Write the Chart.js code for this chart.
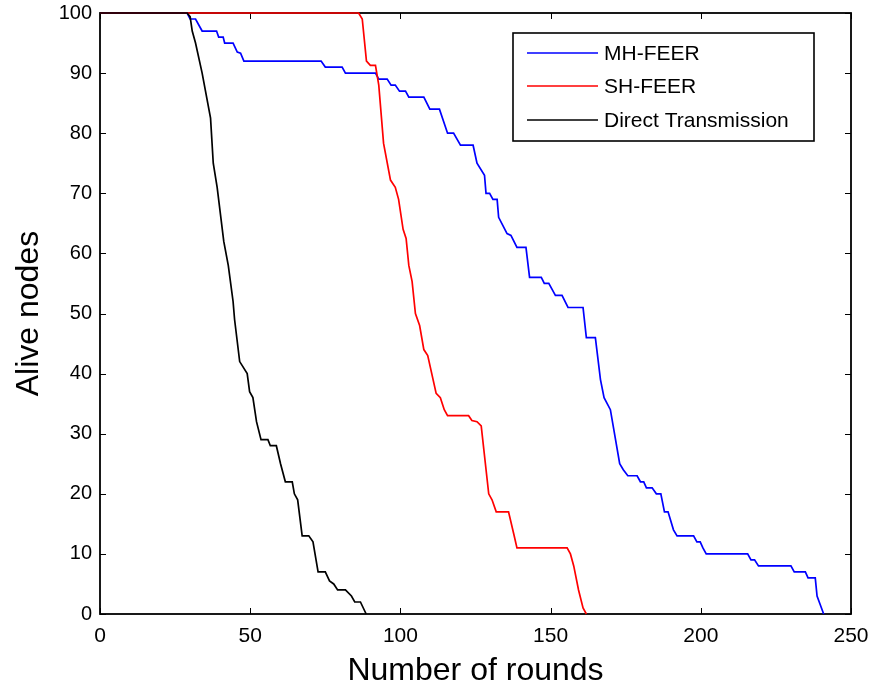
<!DOCTYPE html>
<html>
<head>
<meta charset="utf-8">
<script src="https://cdn.jsdelivr.net/npm/chart.js@4/dist/chart.umd.min.js"></script>
<style>
  html, body { margin: 0; padding: 0; background: #fff; }
  #wrap { width: 872px; height: 690px; }
</style>
</head>
<body>
<div id="wrap"><canvas id="chart" width="872" height="690"></canvas></div>
<script>
  'use strict';

  // values
  const mhRounds = [0, 29, 30, 31.8, 34, 38.8, 39.5, 41, 41.5, 44.3, 45.7, 46.8, 47.9, 73.6, 75, 80.6, 81.7, 91.7, 92.8, 95.6, 96.9, 98.3, 99.7, 101.7, 102.8, 107.8, 109.8, 113, 115.7, 117.7, 120, 124.2, 125.5, 128, 128.5, 129.7, 130.8, 132.2, 132.7, 135.5, 136.8, 138.8, 141.8, 143, 146.9, 147.9, 149.4, 150.5, 151.6, 153.8, 155.8, 160.8, 161.9, 164.9, 166.6, 167.8, 169.9, 173, 174.2, 175.7, 178.8, 179.9, 181, 181.9, 183.8, 185.2, 186.7, 187.9, 189.1, 190.9, 192.1, 197.6, 198.7, 199.8, 200.7, 201.8, 215.6, 216.7, 217.9, 219.2, 230, 231.1, 234.8, 235.7, 238.1, 238.7, 239.8, 240.9];
  const mhAlive = [100, 100, 99, 99, 97, 97, 96, 96, 95, 95, 93.5, 93.3, 92, 92, 91, 91, 90, 90, 89, 89, 88, 88, 87, 87, 86, 86, 84, 84, 80, 80, 78, 78, 75, 73, 70, 70, 69, 69, 66, 63.3, 63, 61, 61, 56, 56, 55, 55, 54, 53, 53, 51, 51, 46, 46, 39, 36, 34, 25, 24, 23, 23, 22, 22, 21, 21, 20, 20, 17, 17, 14, 13, 13, 12, 12, 11, 10, 10, 9, 9, 8, 8, 7, 7, 6, 6, 3, 1.5, 0];

  const shRounds = [0, 86.1, 87.3, 88.7, 90, 91.7, 92.8, 94.4, 96.7, 98.3, 99.4, 100.9, 101.9, 102.8, 103.9, 105, 106.4, 107.8, 109.1, 111.9, 113.3, 114.6, 115.7, 122.7, 123.8, 125.5, 126.9, 129.4, 130.5, 131.9, 136, 137.7, 138.8, 155.5, 156.6, 157.7, 159.3, 160.8, 161.9];
  const shAlive = [100, 100, 99, 92, 91.3, 91.3, 88, 78.3, 72.2, 71, 69, 64, 62.5, 58, 55.3, 50, 48, 44, 43, 36.7, 36, 34, 33, 33, 32.2, 32, 31.3, 20, 19, 17, 17, 13.4, 11, 11, 10, 8, 4, 1, 0];

  const dtRounds = [0, 29, 30, 30.7, 31.8, 34, 36.8, 37.7, 39, 41.2, 42.7, 44.3, 44.8, 46.5, 49, 49.8, 50.9, 52.1, 53.6, 55.9, 56.7, 58.7, 60.1, 61.7, 64, 64.7, 65.8, 67.3, 69.5, 70.9, 72.6, 75, 76.4, 77.8, 79.1, 81.7, 83.7, 84.8, 86.7, 88.6];
  const dtAlive = [100, 100, 99.4, 97, 95, 90, 82.5, 75, 71, 62, 58, 52, 49, 42, 40, 37, 36, 32, 29, 29, 28, 28, 25, 22, 22, 20, 19, 13, 13, 12, 7, 7, 5.5, 5, 4, 4, 3, 2, 2, 0];

  const seriesNames = ['MH-FEER', 'SH-FEER', 'Direct Transmission'];
  const seriesColors = ['#0000ff', '#ff0000', '#000000'];
  const xTicks = [0, 50, 100, 150, 200, 250];
  const yTicks = [0, 10, 20, 30, 40, 50, 60, 70, 80, 90, 100];

  const FONT = '"Liberation Sans", Arial, sans-serif';

  function zip(xs, ys) {
    return xs.map((x, i) => ({ x, y: ys[i] }));
  }

  // matlab style box with inward ticks on every side
  const boxPlugin = {
    id: 'matlabBox',
    beforeDatasetsDraw(chart) {
      const { ctx, chartArea: a, scales } = chart;
      const len = 6;
      ctx.save();
      ctx.strokeStyle = '#000';
      ctx.lineWidth = 1;
      ctx.beginPath();
      scales.x.ticks.forEach((t) => {
        const px = Math.round(scales.x.getPixelForValue(t.value)) + 0.5;
        ctx.moveTo(px, a.bottom); ctx.lineTo(px, a.bottom - len);
        ctx.moveTo(px, a.top); ctx.lineTo(px, a.top + len);
      });
      scales.y.ticks.forEach((t) => {
        const py = Math.round(scales.y.getPixelForValue(t.value)) + 0.5;
        ctx.moveTo(a.left, py); ctx.lineTo(a.left + len, py);
        ctx.moveTo(a.right, py); ctx.lineTo(a.right - len, py);
      });
      ctx.stroke();
      ctx.lineWidth = 1.8;
      ctx.strokeRect(a.left, a.top, a.right - a.left, a.bottom - a.top);
      ctx.restore();
    },
  };

  const legendPlugin = {
    id: 'boxLegend',
    afterDatasetsDraw(chart) {
      const { ctx } = chart;
      const bx = 513, by = 33, bw = 301, bh = 108;
      ctx.save();
      ctx.fillStyle = '#fff';
      ctx.fillRect(bx, by, bw, bh);
      ctx.strokeStyle = '#000';
      ctx.lineWidth = 1.6;
      ctx.strokeRect(bx, by, bw, bh);
      ctx.font = `21px ${FONT}`;
      ctx.textBaseline = 'middle';
      chart.data.datasets.forEach((ds, i) => {
        const y = Math.round(by + 20 + i * 33.4);
        ctx.strokeStyle = seriesColors[i];
        ctx.lineWidth = 1.6;
        ctx.beginPath();
        ctx.moveTo(bx + 14, y);
        ctx.lineTo(bx + 85, y);
        ctx.stroke();
        ctx.fillStyle = '#000';
        ctx.fillText(ds.label, bx + 91, y + 1);
      });
      ctx.restore();
    },
  };

  const seriesData = [zip(mhRounds, mhAlive), zip(shRounds, shAlive), zip(dtRounds, dtAlive)];

  new Chart(document.getElementById('chart'), {
    type: 'line',
    data: {
      datasets: seriesNames.map((name, i) => ({
        label: name,
        data: seriesData[i],
        borderColor: seriesColors[i],
        backgroundColor: seriesColors[i],
        borderWidth: 1.7,
        pointRadius: 0,
        tension: 0,
        fill: false,
        clip: 3,
        order: 3 - i,
      })),
    },
    options: {
      responsive: false,
      animation: false,
      events: [],
      layout: { padding: { top: 13, right: 21, left: 0, bottom: 0 } },
      plugins: { legend: { display: false }, tooltip: { enabled: false } },
      scales: {
        x: {
          type: 'linear', min: 0, max: 250,
          afterBuildTicks: (s) => { s.ticks = xTicks.map((v) => ({ value: v })); },
          afterFit: (s) => { s.height = 76; s.paddingLeft = 0; s.paddingRight = 0; },
          grid: { display: false, drawTicks: false },
          border: { display: false },
          ticks: { color: '#000', font: { family: FONT, size: 21 }, padding: 10, maxRotation: 0 },
          title: { display: true, text: 'Number of rounds', color: '#000', font: { family: FONT, size: 32 }, padding: { top: 0, bottom: 0 } },
        },
        y: {
          type: 'linear', min: 0, max: 100,
          afterBuildTicks: (s) => { s.ticks = yTicks.map((v) => ({ value: v })); },
          afterFit: (s) => { s.width = 100; s.paddingTop = 0; s.paddingBottom = 0; },
          grid: { display: false, drawTicks: false },
          border: { display: false },
          ticks: { color: '#000', font: { family: FONT, size: 20 }, padding: 8 },
          title: { display: true, text: 'Alive nodes', color: '#000', font: { family: FONT, size: 32 }, padding: { top: 10, bottom: 0 } },
        },
      },
    },
    plugins: [boxPlugin, legendPlugin],
  });
</script>
</body>
</html>
